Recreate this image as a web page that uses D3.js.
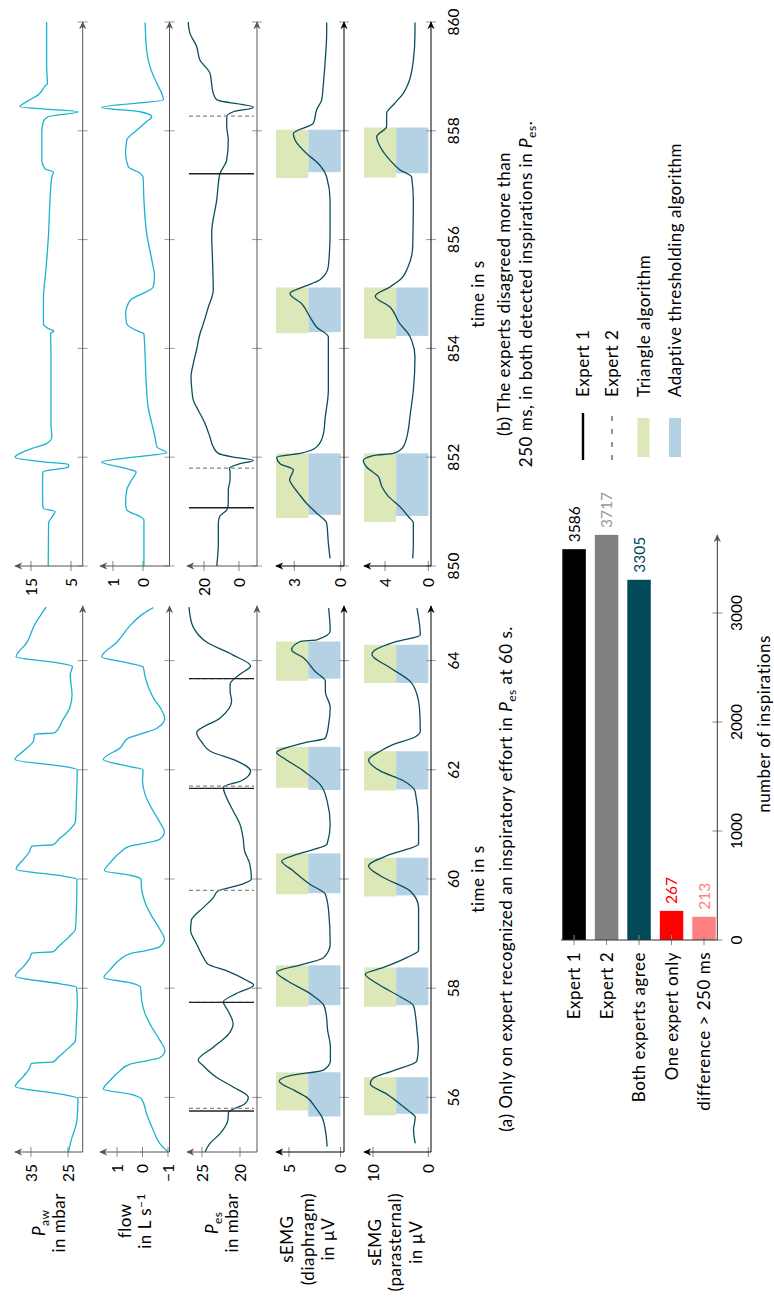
<!DOCTYPE html>
<meta charset="utf-8">
<style>
body { margin: 0; background: #fff; }
text { font-family: Lato, "DejaVu Sans", sans-serif; font-size: 17px; letter-spacing: 0.5px; fill: #000; }
text.num { font-size: 15.5px; letter-spacing: 0; }
</style>
<body>
<script src="https://d3js.org/d3.v7.min.js"></script>
<script>

// ---- signals, panel (a): [time in s, value] ----
var pawA = [[55.0,24.9],[55.2,24.2],[55.58,22.6],[55.98,22.3],[56.05,26],[56.2,39.2],[56.38,37.1],[56.53,35.4],[56.62,34.9],[56.65,29.0],[56.73,27.7],[56.92,24.6],[57.04,23.0],[57.4,22.7],[57.77,22.5],[58.02,22.7],[58.08,27],[58.22,39.2],[58.4,37.0],[58.55,35.3],[58.64,34.8],[58.67,29.0],[58.76,27.6],[58.95,24.6],[59.08,23.0],[59.5,22.7],[60.0,22.6],[60.05,26],[60.18,39.0],[60.36,37.0],[60.5,35.4],[60.6,34.8],[60.63,29.0],[60.72,27.6],[60.9,24.6],[61.05,23.0],[61.5,22.7],[62.0,22.5],[62.05,25],[62.19,39.3],[62.34,37.1],[62.53,34.3],[62.65,34.0],[62.68,28.5],[62.9,26.5],[63.14,24.5],[63.38,23.9],[63.74,24.4],[63.89,23.8],[63.95,27],[64.07,39.0],[64.32,36.2],[64.67,33.9],[64.9,31.7],[64.98,30.9]];
var flowA = [[55.0,-1.01],[55.15,-0.69],[55.4,-0.42],[55.7,-0.16],[55.97,0.03],[56.06,0.49],[56.15,1.54],[56.31,1.27],[56.49,0.88],[56.61,0.49],[56.67,-0.16],[56.73,-0.69],[56.86,-0.88],[57.04,-0.69],[57.29,-0.36],[57.53,-0.1],[57.77,0.03],[58.02,0.08],[58.1,0.5],[58.19,1.52],[58.35,1.25],[58.53,0.87],[58.63,0.5],[58.69,-0.15],[58.76,-0.68],[58.9,-0.86],[59.08,-0.68],[59.33,-0.35],[59.57,-0.1],[59.8,0.03],[60.0,0.06],[60.07,0.5],[60.15,1.5],[60.31,1.25],[60.49,0.87],[60.6,0.5],[60.66,-0.15],[60.73,-0.68],[60.86,-0.86],[61.04,-0.68],[61.3,-0.35],[61.55,-0.1],[61.8,0.0],[62.0,-0.02],[62.06,0.5],[62.19,1.54],[62.4,0.88],[62.58,0.56],[62.67,-0.03],[62.76,-0.56],[62.94,-0.87],[63.12,-0.72],[63.3,-0.45],[63.48,-0.26],[63.73,-0.09],[63.88,-0.03],[63.95,0.5],[64.07,1.6],[64.34,1.0],[64.64,0.49],[64.86,-0.03],[64.97,-0.42]];
var pesA = [[55.0,24.6],[55.15,24.0],[55.34,22.6],[55.58,21.6],[55.73,21.5],[55.88,19.4],[56.0,18.9],[56.19,20.9],[56.37,23.1],[56.59,24.9],[56.68,25.5],[56.92,23.5],[57.16,21.5],[57.35,20.9],[57.59,21.6],[57.75,22.2],[57.9,20.5],[58.06,18.2],[58.14,19.1],[58.32,21.8],[58.44,24.2],[58.56,24.8],[58.81,25.7],[59.06,26.5],[59.24,26.4],[59.48,24.8],[59.66,23.5],[59.78,22.9],[59.9,19.8],[60.0,18.5],[60.27,18.7],[60.52,19.4],[60.76,19.6],[61.0,20.0],[61.25,20.9],[61.5,21.8],[61.68,22.2],[61.8,19.8],[61.98,18.6],[62.16,20.4],[62.34,23.9],[62.5,25.0],[62.68,25.7],[62.95,22.6],[63.26,21.1],[63.44,21.3],[63.57,21.3],[63.75,20.0],[63.9,18.6],[64.1,20.9],[64.34,24.4],[64.6,26.1],[64.85,26.6],[64.98,26.7]];
var diaA = [[55.1,1.3],[55.4,1.47],[55.64,1.8],[55.82,2.45],[56.0,3.27],[56.12,4.4],[56.3,5.95],[56.4,4.9],[56.5,1.64],[56.67,0.98],[56.92,0.98],[57.23,1.25],[57.53,1.4],[57.69,1.63],[57.9,2.94],[58.14,5.2],[58.29,6.2],[58.44,3.6],[58.56,1.63],[58.81,1.0],[59.41,1.15],[59.72,1.47],[59.9,2.94],[60.15,4.6],[60.33,5.7],[60.45,4.25],[60.64,1.3],[61.0,1.0],[61.43,1.3],[61.73,1.96],[61.98,3.6],[62.22,5.56],[62.31,6.2],[62.49,3.6],[62.58,1.47],[62.83,1.15],[63.14,1.0],[63.44,1.47],[63.62,1.47],[63.8,2.45],[64.05,3.6],[64.2,4.74],[64.35,3.92],[64.38,2.3],[64.54,1.0],[64.96,1.15]];
var parA = [[55.16,2.36],[55.4,2.67],[55.64,2.36],[55.73,3.27],[55.88,5.1],[56.06,7.5],[56.25,10.5],[56.35,10.0],[56.49,6.3],[56.67,2.05],[56.92,1.8],[57.23,2.05],[57.53,2.36],[57.68,2.67],[57.84,5.0],[58.08,9.2],[58.26,11.4],[58.38,8.1],[58.56,3.9],[58.69,1.76],[59.48,1.76],[59.78,3.27],[60.06,8.7],[60.24,10.8],[60.45,6.9],[60.64,1.76],[61.0,1.76],[61.6,2.36],[61.8,4.5],[61.98,8.7],[62.18,10.8],[62.34,8.7],[62.47,6.2],[62.6,2.4],[62.71,1.45],[63.14,1.6],[63.38,2.05],[63.62,3.27],[63.87,6.9],[64.11,10.2],[64.17,9.9],[64.35,5.7],[64.47,1.45],[64.96,2.05]];

// ---- signals, panel (b) ----
var pawB = [[850.0,10.7],[850.79,10.6],[850.94,9.4],[851.0,9.0],[851.06,11.9],[851.15,12.1],[851.4,12.1],[851.64,12.1],[851.73,12.0],[851.82,5.7],[851.87,5.6],[851.91,11.3],[852.0,19.0],[852.07,17.75],[852.16,14.8],[852.25,11.1],[852.37,9.8],[852.62,10.0],[853.23,10.0],[853.84,10.0],[854.27,10.1],[854.32,9.3],[854.36,10.5],[854.45,11.9],[854.89,11.9],[855.5,11.2],[856.12,10.6],[856.73,10.25],[857.15,9.8],[857.24,9.4],[857.3,11.5],[857.46,12.3],[857.95,12.3],[858.15,12.0],[858.26,10.7],[858.35,3.2],[858.44,17.75],[858.57,15.25],[858.66,13.2],[858.82,11.5],[858.87,10.9],[859.18,11.1],[859.79,11.1],[860.0,11.1]];
var flowB = [[850.0,-0.03],[850.85,-0.03],[850.91,0.1],[851.03,0.54],[851.15,0.58],[851.4,0.54],[851.58,0.38],[851.73,0.23],[851.79,0.54],[851.91,1.38],[852.0,0.32],[852.08,-0.79],[852.19,-0.46],[852.37,-0.4],[852.62,-0.29],[852.92,-0.17],[853.23,-0.12],[853.84,-0.07],[854.27,-0.03],[854.3,0.1],[854.45,0.54],[854.64,0.58],[854.88,0.43],[855.13,-0.34],[855.32,-0.38],[855.63,-0.29],[856.12,-0.12],[856.73,-0.03],[857.15,0.0],[857.22,0.1],[857.34,0.49],[857.58,0.58],[857.83,0.54],[858.01,0.21],[858.17,-0.12],[858.26,-0.29],[858.35,0.1],[858.43,1.38],[858.57,-0.68],[858.69,-0.62],[858.87,-0.46],[859.18,-0.23],[859.48,-0.12],[859.99,-0.07]];
var pesB = [[850.0,12.7],[850.42,11.8],[850.79,11.8],[850.92,10.9],[851.03,7.0],[851.15,6.1],[851.4,6.1],[851.58,5.1],[851.73,5.1],[851.8,5.5],[851.88,-0.6],[851.94,-8.2],[852.0,3.0],[852.07,11.8],[852.19,14.7],[852.37,16.6],[852.62,19.4],[852.86,23.2],[853.05,26.1],[853.23,26.9],[853.48,27.4],[853.72,26.1],[853.98,24.2],[854.27,22.3],[854.45,20.4],[854.76,17.5],[855.07,14.7],[855.51,15.0],[856.12,15.6],[856.73,12.7],[857.21,10.9],[857.46,7.0],[857.83,6.1],[858.08,7.0],[858.26,7.0],[858.35,3.2],[858.43,-8.2],[858.57,12.7],[858.69,14.7],[859.06,16.6],[859.3,22.3],[859.55,24.2],[859.79,28.0],[860.0,29.0]];
var diaB = [[850.14,0.69],[850.42,0.8],[850.79,0.91],[850.97,1.55],[851.15,2.2],[851.34,2.74],[851.46,3.06],[851.58,3.3],[851.77,3.06],[851.88,3.92],[852.0,4.14],[852.07,2.63],[852.19,1.55],[852.43,1.12],[852.74,1.0],[853.23,0.8],[853.84,0.8],[854.21,0.8],[854.39,1.55],[854.58,1.99],[854.82,2.52],[855.01,3.28],[855.13,2.42],[855.26,1.34],[855.51,0.8],[856.12,0.69],[856.73,0.69],[857.15,0.91],[857.4,1.45],[857.58,2.2],[857.83,2.95],[857.95,3.06],[858.14,1.77],[858.39,1.55],[858.57,1.23],[858.87,1.12],[859.3,1.0],[859.79,0.91],[859.99,0.91]];
var parB = [[850.14,1.44],[850.42,1.38],[850.79,1.38],[850.91,1.85],[851.09,2.61],[851.28,3.69],[851.46,4.3],[851.64,4.6],[851.82,5.7],[851.94,6.0],[852.03,5.1],[852.07,3.23],[852.19,2.31],[852.5,1.85],[852.74,1.7],[853.23,1.38],[853.84,1.23],[854.15,1.54],[854.27,1.85],[854.45,2.61],[854.76,3.54],[854.96,4.9],[855.13,3.54],[855.26,2.61],[855.51,1.85],[855.87,1.44],[856.73,1.38],[857.15,1.54],[857.28,2.61],[857.46,3.54],[857.71,4.46],[857.89,4.77],[858.08,3.85],[858.32,3.85],[858.51,3.08],[858.69,2.31],[858.87,1.85],[859.3,1.38],[859.79,1.23],[859.99,1.23]];

// detected inspirations [start, end] in s
var triDiaA = [[55.76,56.46],[57.66,58.42],[59.72,60.47],[61.67,62.42],[63.63,64.35]];
var adaDiaA = [[55.65,56.46],[57.69,58.42],[59.74,60.47],[61.63,62.42],[63.67,64.35]];
var triParA = [[55.67,56.37],[57.66,58.38],[59.68,60.39],[61.62,62.34],[63.59,64.29]];
var adaParA = [[55.70,56.37],[57.69,58.38],[59.70,60.39],[61.64,62.34],[63.59,64.29]];
var triDiaB = [[850.88,852.07],[854.28,855.12],[857.13,858.02]];
var adaDiaB = [[850.94,852.07],[854.30,855.12],[857.24,858.02]];
var triParB = [[850.81,852.07],[854.18,855.12],[857.14,858.06]];
var adaParB = [[850.92,852.07],[854.23,855.12],[857.22,858.06]];

// expert annotations in Pes
var exp1A = [55.75, 57.74, 61.66, 63.67];
var exp2A = [55.80, 57.74, 59.79, 61.70, 63.67];
var exp1B = [851.07, 857.21];
var exp2B = [851.80, 858.27];

// ticks
var timeTicksA = [56, 58, 60, 62, 64];
var timeTicksB = [850, 852, 854, 856, 858, 860];
var ticksA = [[25, 35], [-1, 0, 1], [20, 25], [0, 5], [0, 10]];
var ticksB = [[5, 15], [0, 1], [0, 20], [0, 3], [0, 4]];

// bar chart
var categories = ["Expert 1", "Expert 2", "Both experts agree", "One expert only", "difference > 250 ms"];
var counts = [3586, 3717, 3305, 267, 213];
var countTicks = [0, 1000, 2000, 3000];

var cyan = "#1ab2d0", teal = "#0b4d5c", green = "#dde8b8", blue = "#b4d2e4";
var barColors = ["#000000", "#808080", "#004a59", "#ff0000", "#ff8080"];
var valColors = ["#000000", "#9a9a9a", "#004a59", "#ff0000", "#ff8080"];

var rowTop = [15, 100, 187, 276, 364],
    rowBase = [82.7, 169.5, 257, 344, 431],
    axisCol = ["#555", "#555", "#555", "#000", "#000"];

var svg = d3.select("body").append("svg")
    .attr("width", 774)
    .attr("height", 1309);

var defs = svg.append("defs");
function arrow(id, col) {
  defs.append("marker")
      .attr("id", id)
      .attr("viewBox", "0 0 10 10")
      .attr("refX", 9).attr("refY", 5)
      .attr("markerWidth", 8).attr("markerHeight", 8)
      .attr("markerUnits", "userSpaceOnUse")
      .attr("orient", "auto")
    .append("path")
      .attr("d", "M0,0.5 L10,5 L0,9.5 L3,5 Z")
      .attr("fill", col);
}
arrow("arrGray", "#555");
arrow("arrBlack", "#000");

// the figure is laid out landscape and turned a quarter to the left
var root = svg.append("g").attr("transform", "translate(0,1309) rotate(-90)");

function rich(sel, parts) {
  var shift = 0;
  parts.forEach(function(p) {
    if (typeof p === "string") p = {t: p};
    var s = p.sub ? 4 : p.sup ? -6 : 0;
    var ts = sel.append("tspan").text(p.t);
    if (s - shift) ts.attr("dy", s - shift);
    shift = s;
    if (p.it) ts.attr("font-style", "italic");
    if (s) ts.style("font-size", "12px");
  });
}

function drawPanel(p) {
  var x = d3.scaleLinear().domain(p.domain).range(p.range);
  var pg = root.append("g");

  p.rows.forEach(function(r, i) {
    var y = d3.scaleLinear().domain(r.dom).range([rowBase[i], rowTop[i]]);
    var arr = i < 3 ? "url(#arrGray)" : "url(#arrBlack)";

    if (r.tri) {
      var y0 = y(0), yt = rowTop[i], ym = (y0 + yt) / 2;
      pg.append("g").selectAll("rect")
        .data(r.tri)
        .enter().append("rect")
          .attr("x", function(d) { return x(d[0]); })
          .attr("width", function(d) { return x(d[1]) - x(d[0]); })
          .attr("y", yt)
          .attr("height", ym - yt)
          .attr("fill", green);
      pg.append("g").selectAll("rect")
        .data(r.ada)
        .enter().append("rect")
          .attr("x", function(d) { return x(d[0]); })
          .attr("width", function(d) { return x(d[1]) - x(d[0]); })
          .attr("y", ym)
          .attr("height", y0 - ym)
          .attr("fill", blue);
    }

    // tick marks on the time axis
    pg.append("g").selectAll("line")
      .data(p.ticks)
      .enter().append("line")
        .attr("x1", function(d) { return x(d); })
        .attr("x2", function(d) { return x(d); })
        .attr("y1", rowBase[i] - 5)
        .attr("y2", rowBase[i] + 5)
        .attr("stroke", "#999")
        .attr("stroke-width", 1);

    // value ticks
    pg.append("g").selectAll("line")
      .data(r.ticks)
      .enter().append("line")
        .attr("x1", p.range[0] - 5)
        .attr("x2", p.range[0] + 5)
        .attr("y1", function(d) { return y(d); })
        .attr("y2", function(d) { return y(d); })
        .attr("stroke", "#888");
    pg.append("g").selectAll("text")
      .data(r.ticks)
      .enter().append("text")
        .attr("class", "num")
        .attr("x", p.range[0] - 12)
        .attr("y", function(d) { return y(d); })
        .attr("dy", "0.36em")
        .attr("text-anchor", "end")
        .text(function(d) { return d < 0 ? "\u2212" + Math.abs(d) : d; });

    // signal
    var line = d3.line()
        .x(function(d) { return x(d[0]); })
        .y(function(d) { return y(d[1]); })
        .curve(d3.curveMonotoneX);
    pg.append("path")
        .datum(r.data)
        .attr("d", line)
        .attr("fill", "none")
        .attr("stroke", r.color)
        .attr("stroke-width", 1.3)
        .attr("stroke-linejoin", "round");

    // expert marks
    if (r.exp2) {
      pg.append("g").selectAll("line")
        .data(r.exp2)
        .enter().append("line")
          .attr("x1", function(d) { return x(d); })
          .attr("x2", function(d) { return x(d); })
          .attr("y1", rowTop[i] + 2)
          .attr("y2", rowBase[i] - 3)
          .attr("stroke", "#888")
          .attr("stroke-width", 1.2)
          .attr("stroke-dasharray", "4,3");
      pg.append("g").selectAll("line")
        .data(r.exp1)
        .enter().append("line")
          .attr("x1", function(d) { return x(d); })
          .attr("x2", function(d) { return x(d); })
          .attr("y1", rowTop[i] + 2)
          .attr("y2", rowBase[i] - 3)
          .attr("stroke", "#222")
          .attr("stroke-width", 1.4);
    }

    // axes
    pg.append("line")
        .attr("x1", p.range[0]).attr("x2", p.range[1])
        .attr("y1", rowBase[i]).attr("y2", rowBase[i])
        .attr("stroke", axisCol[i])
        .attr("marker-end", arr);
    pg.append("line")
        .attr("x1", p.range[0]).attr("x2", p.range[0])
        .attr("y1", rowBase[i]).attr("y2", rowTop[i])
        .attr("stroke", axisCol[i])
        .attr("marker-end", arr);
  });

  pg.append("g").selectAll("text")
    .data(p.ticks)
    .enter().append("text")
      .attr("class", "num")
      .attr("x", function(d) { return x(d); })
      .attr("y", 459)
      .attr("text-anchor", "middle")
      .text(function(d) { return d; });

  pg.append("text")
      .attr("x", (p.range[0] + p.range[1]) / 2)
      .attr("y", 484)
      .attr("text-anchor", "middle")
      .text("time in s");
}

drawPanel({
  domain: [55, 65], range: [157, 703], ticks: timeTicksA,
  rows: [
    {data: pawA, dom: [21.03, 39.3], ticks: ticksA[0], color: cyan},
    {data: flowA, dom: [-1.06, 1.67], ticks: ticksA[1], color: cyan},
    {data: pesA, dom: [17.76, 26.97], ticks: ticksA[2], color: teal, exp1: exp1A, exp2: exp2A},
    {data: diaA, dom: [-0.34, 6.26], ticks: ticksA[3], color: teal, tri: triDiaA, ada: adaDiaA},
    {data: parA, dom: [-0.49, 11.63], ticks: ticksA[4], color: teal, tri: triParA, ada: adaParA}
  ]
});

drawPanel({
  domain: [850, 860], range: [743, 1287], ticks: timeTicksB,
  rows: [
    {data: pawB, dom: [2.08, 19], ticks: ticksB[0], color: cyan},
    {data: flowB, dom: [-0.88, 1.43], ticks: ticksB[1], color: cyan},
    {data: pesB, dom: [-10.3, 29.7], ticks: ticksB[2], color: teal, exp1: exp1B, exp2: exp2B},
    {data: diaB, dom: [-0.21, 4.18], ticks: ticksB[3], color: teal, tri: triDiaB, ada: adaDiaB},
    {data: parB, dom: [-0.25, 5.94], ticks: ticksB[4], color: teal, tri: triParB, ada: adaParB}
  ]
});

// row labels, lines centred inside a block that ends at x = 116
var rowLabels = [
  [[{t: "P", it: true}, {t: "aw", sub: true}], ["in mbar"]],
  [["flow"], ["in L s", {t: "\u22121", sup: true}]],
  [[{t: "P", it: true}, {t: "es", sub: true}], ["in mbar"]],
  [["sEMG"], ["(diaphragm)"], ["in \u00b5V"]],
  [["sEMG"], ["(parasternal)"], ["in \u00b5V"]]
];
rowLabels.forEach(function(lines, i) {
  var mid = (rowTop[i] + rowBase[i]) / 2 - (lines.length > 2 ? 2.5 : 0);
  var texts = lines.map(function(parts, j) {
    var t = root.append("text")
        .attr("y", mid + (j - (lines.length - 1) / 2) * 20.5)
        .attr("dy", "0.36em")
        .attr("text-anchor", "middle");
    rich(t, parts);
    return t;
  });
  var bw = d3.max(texts, function(t) { return t.node().getComputedTextLength(); });
  texts.forEach(function(t) { t.attr("x", 116 - bw / 2); });
});

// captions
var capA = root.append("text").attr("x", 430).attr("y", 512).attr("text-anchor", "middle");
rich(capA, ["(a) Only on expert recognized an inspiratory effort in ", {t: "P", it: true}, {t: "es", sub: true}, " at 60 s."]);
root.append("text").attr("x", 1015).attr("y", 510).attr("text-anchor", "middle")
    .text("(b) The experts disagreed more than");
var capB = root.append("text").attr("x", 1015).attr("y", 532).attr("text-anchor", "middle");
rich(capB, ["250 ms, in both detected inspirations in ", {t: "P", it: true}, {t: "es", sub: true}, "."]);

// ---- bar chart ----
var xBar = d3.scaleLinear().domain([0, 3716]).range([369, 774]);
var yBand = d3.scaleBand().domain(categories).range([560.7, 717.4]).paddingInner(0.277).paddingOuter(0.05);
var bg = root.append("g");

bg.selectAll("rect")
  .data(counts)
  .enter().append("rect")
    .attr("x", xBar(0))
    .attr("y", function(d, i) { return yBand(categories[i]); })
    .attr("width", function(d) { return xBar(d) - xBar(0); })
    .attr("height", yBand.bandwidth())
    .attr("fill", function(d, i) { return barColors[i]; });

bg.append("g").selectAll("text")
  .data(counts)
  .enter().append("text")
    .attr("class", "num")
    .attr("x", function(d) { return xBar(d) + 7; })
    .attr("y", function(d, i) { return yBand(categories[i]) + yBand.bandwidth() / 2; })
    .attr("dy", "0.36em")
    .style("fill", function(d, i) { return valColors[i]; })
    .text(function(d) { return d; });

bg.append("g").selectAll("line")
  .data(categories)
  .enter().append("line")
    .attr("x1", xBar(0) - 5).attr("x2", xBar(0) + 5)
    .attr("y1", function(d) { return yBand(d) + yBand.bandwidth() / 2; })
    .attr("y2", function(d) { return yBand(d) + yBand.bandwidth() / 2; })
    .attr("stroke", "#888");

bg.append("g").selectAll("text")
  .data(categories)
  .enter().append("text")
    .attr("x", xBar(0) - 12)
    .attr("y", function(d) { return yBand(d) + yBand.bandwidth() / 2; })
    .attr("dy", "0.36em")
    .attr("text-anchor", "end")
    .text(function(d) { return d; });

bg.append("line")
    .attr("x1", xBar(0)).attr("x2", xBar(0))
    .attr("y1", 561).attr("y2", 717.3)
    .attr("stroke", "#333");

bg.append("g").selectAll("line")
  .data(countTicks)
  .enter().append("line")
    .attr("x1", function(d) { return xBar(d); })
    .attr("x2", function(d) { return xBar(d); })
    .attr("y1", 712.3).attr("y2", 722.3)
    .attr("stroke", "#888");

bg.append("line")
    .attr("x1", xBar(0)).attr("x2", xBar.range()[1])
    .attr("y1", 717.3).attr("y2", 717.3)
    .attr("stroke", "#333")
    .attr("marker-end", "url(#arrGray)");

bg.append("g").selectAll("text")
  .data(countTicks)
  .enter().append("text")
    .attr("class", "num")
    .attr("x", function(d) { return xBar(d); })
    .attr("y", 742)
    .attr("text-anchor", "middle")
    .text(function(d) { return d; });

bg.append("text")
    .attr("x", 585)
    .attr("y", 770)
    .attr("text-anchor", "middle")
    .text("number of inspirations");

// ---- legend ----
var legend = [
  {label: "Expert 1", type: "solid"},
  {label: "Expert 2", type: "dash"},
  {label: "Triangle algorithm", type: "box", fill: green},
  {label: "Adaptive thresholding algorithm", type: "box", fill: blue}
];
var legY = [583, 612, 643.5, 675];
var lg = root.append("g");
legend.forEach(function(l, i) {
  if (l.type === "box") {
    lg.append("rect").attr("x", 852).attr("y", legY[i] - 6).attr("width", 39).attr("height", 12).attr("fill", l.fill);
  } else {
    lg.append("line")
        .attr("x1", 849).attr("x2", 896)
        .attr("y1", legY[i]).attr("y2", legY[i])
        .attr("stroke", l.type === "solid" ? "#000" : "#888")
        .attr("stroke-width", l.type === "solid" ? 2.4 : 1.8)
        .attr("stroke-dasharray", l.type === "solid" ? null : "5,8");
  }
  lg.append("text")
      .attr("x", 912)
      .attr("y", legY[i])
      .attr("dy", "0.36em")
      .text(l.label);
});

</script>
</body>
